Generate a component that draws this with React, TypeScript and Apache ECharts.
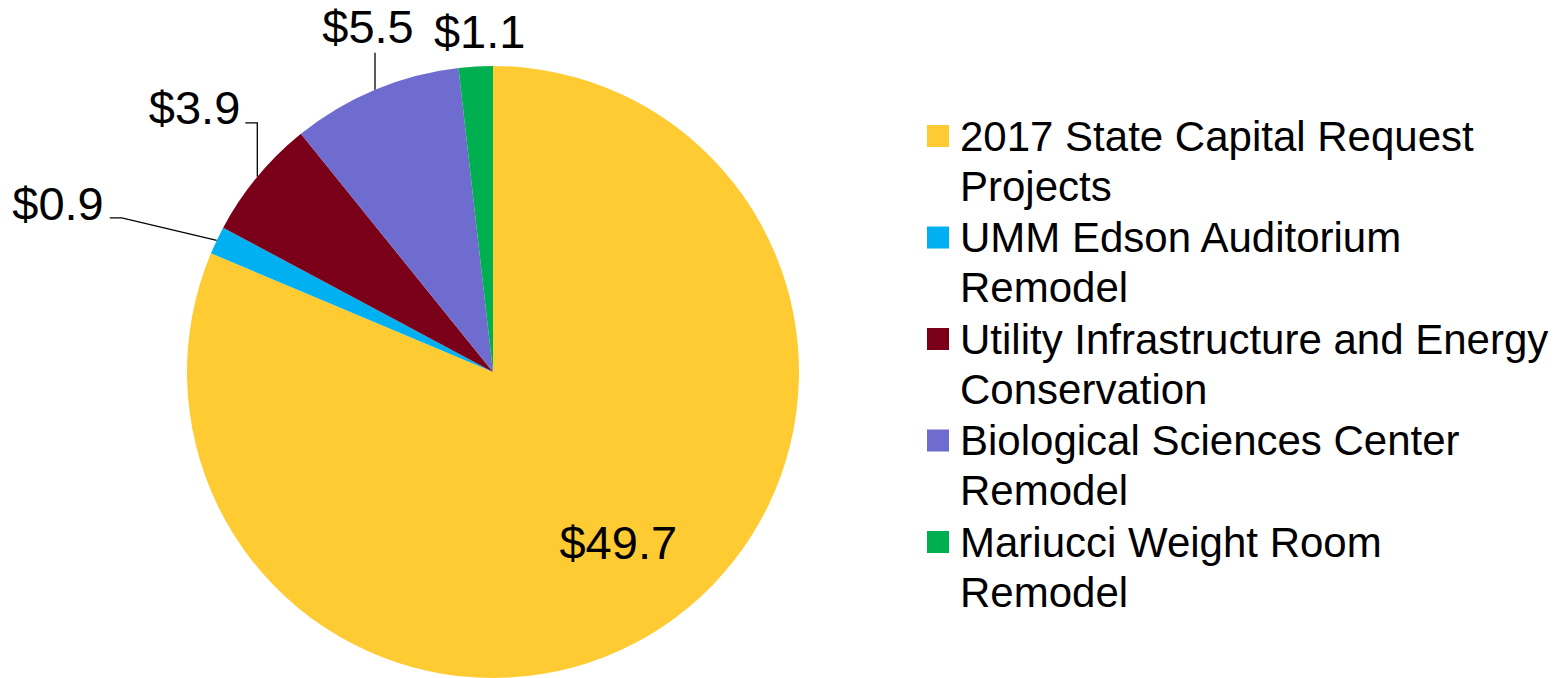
import React, { useEffect, useRef } from "react";
import * as echarts from "echarts";

const categories = [
  "2017 State Capital Request Projects",
  "UMM Edson Auditorium Remodel",
  "Utility Infrastructure and Energy Conservation",
  "Biological Sciences Center Remodel",
  "Mariucci Weight Room Remodel",
];
const legendLines = [
  "2017 State Capital Request\nProjects",
  "UMM Edson Auditorium\nRemodel",
  "Utility Infrastructure and Energy\nConservation",
  "Biological Sciences Center\nRemodel",
  "Mariucci Weight Room\nRemodel",
];
const values = [49.7, 0.9, 3.9, 5.5, 1.1];
const colors = ["#FFCB33", "#00B0F0", "#7A0019", "#6E6CCE", "#00B050"];

const FONT = "'Liberation Sans', Arial, sans-serif";

export default function App() {
  const ref = useRef<HTMLDivElement>(null);
  useEffect(() => {
    if (!ref.current) return;
    const chart = echarts.init(ref.current, undefined, { renderer: "svg" });
    const mainData = categories.map((name, i) => ({
      name,
      value: values[i],
      itemStyle: { color: colors[i] },
      label: { show: i !== 0 },
      labelLine: { show: i !== 0 },
    }));
    const innerLabelData = categories.map((name, i) => ({
      name,
      value: values[i],
      label: { show: i === 0 },
    }));
    chart.setOption({
      animation: false,
      legend: {
        orient: "vertical",
        left: 927,
        top: 111,
        padding: 0,
        itemGap: 1.5,
        itemWidth: 28,
        itemHeight: 100,
        icon: "path://M0,0M0,14h22v22h-22zM28,100",
        selectedMode: false,
        data: categories,
        formatter: (name: string) => legendLines[categories.indexOf(name)],
        textStyle: { fontSize: 42, lineHeight: 50, color: "#000", fontFamily: FONT },
      },
      series: [
        {
          type: "pie",
          center: [493, 372],
          radius: [0, 306],
          startAngle: 90,
          clockwise: true,
          avoidLabelOverlap: false,
          silent: true,
          data: mainData,
          itemStyle: { borderWidth: 0 },
          label: {
            position: "outside",
            formatter: "${c}",
            fontSize: 47,
            color: "#000",
            fontFamily: FONT,
          },
          labelLine: {
            show: true,
            smooth: false,
            length: 20,
            length2: 10,
            lineStyle: { color: "#000", width: 1.3 },
          },
          labelLayout: (p: any) => {
            const pts = p.labelLinePoints;
            if (!pts || !pts[0]) return {};
            const x0 = pts[0][0];
            const y0 = pts[0][1];
            switch (p.dataIndex) {
              case 1:
                return {
                  x: x0 - 113, y: y0 - 37, align: "right", verticalAlign: "middle",
                  labelLinePoints: [[x0, y0], [x0 - 95, y0 - 22.5], [x0 - 107, y0 - 22.5]],
                };
              case 2:
                return {
                  x: x0 - 17, y: y0 - 69, align: "right", verticalAlign: "middle",
                  labelLinePoints: [[x0, y0], [x0, y0 - 54], [x0 - 12, y0 - 54]],
                };
              case 3:
                return {
                  x: x0 - 7, y: y0 - 63, align: "center", verticalAlign: "middle",
                  labelLinePoints: [[x0, y0], [x0, y0 - 37], [x0, y0 - 37]],
                };
              case 4:
                return {
                  x: x0 + 4, y: y0 - 35, align: "center", verticalAlign: "middle",
                  labelLinePoints: [[x0, y0], [x0, y0], [x0, y0]],
                };
              default:
                return {};
            }
          },
        },
        {
          type: "pie",
          center: [493, 372],
          radius: [112, 306],
          startAngle: 90,
          clockwise: true,
          silent: true,
          avoidLabelOverlap: false,
          data: innerLabelData,
          itemStyle: { color: "rgba(0,0,0,0)", borderWidth: 0 },
          label: {
            position: "inside",
            formatter: "${c}",
            fontSize: 47,
            color: "#000",
            fontFamily: FONT,
          },
          labelLayout: { dx: 8, dy: -6 },
          labelLine: { show: false },
        },
      ],
    });
    return () => chart.dispose();
  }, []);
  return (
    <div
      ref={ref}
      style={{ position: "fixed", left: 0, top: 0, width: 1567, height: 678, background: "#fff" }}
    />
  );
}
